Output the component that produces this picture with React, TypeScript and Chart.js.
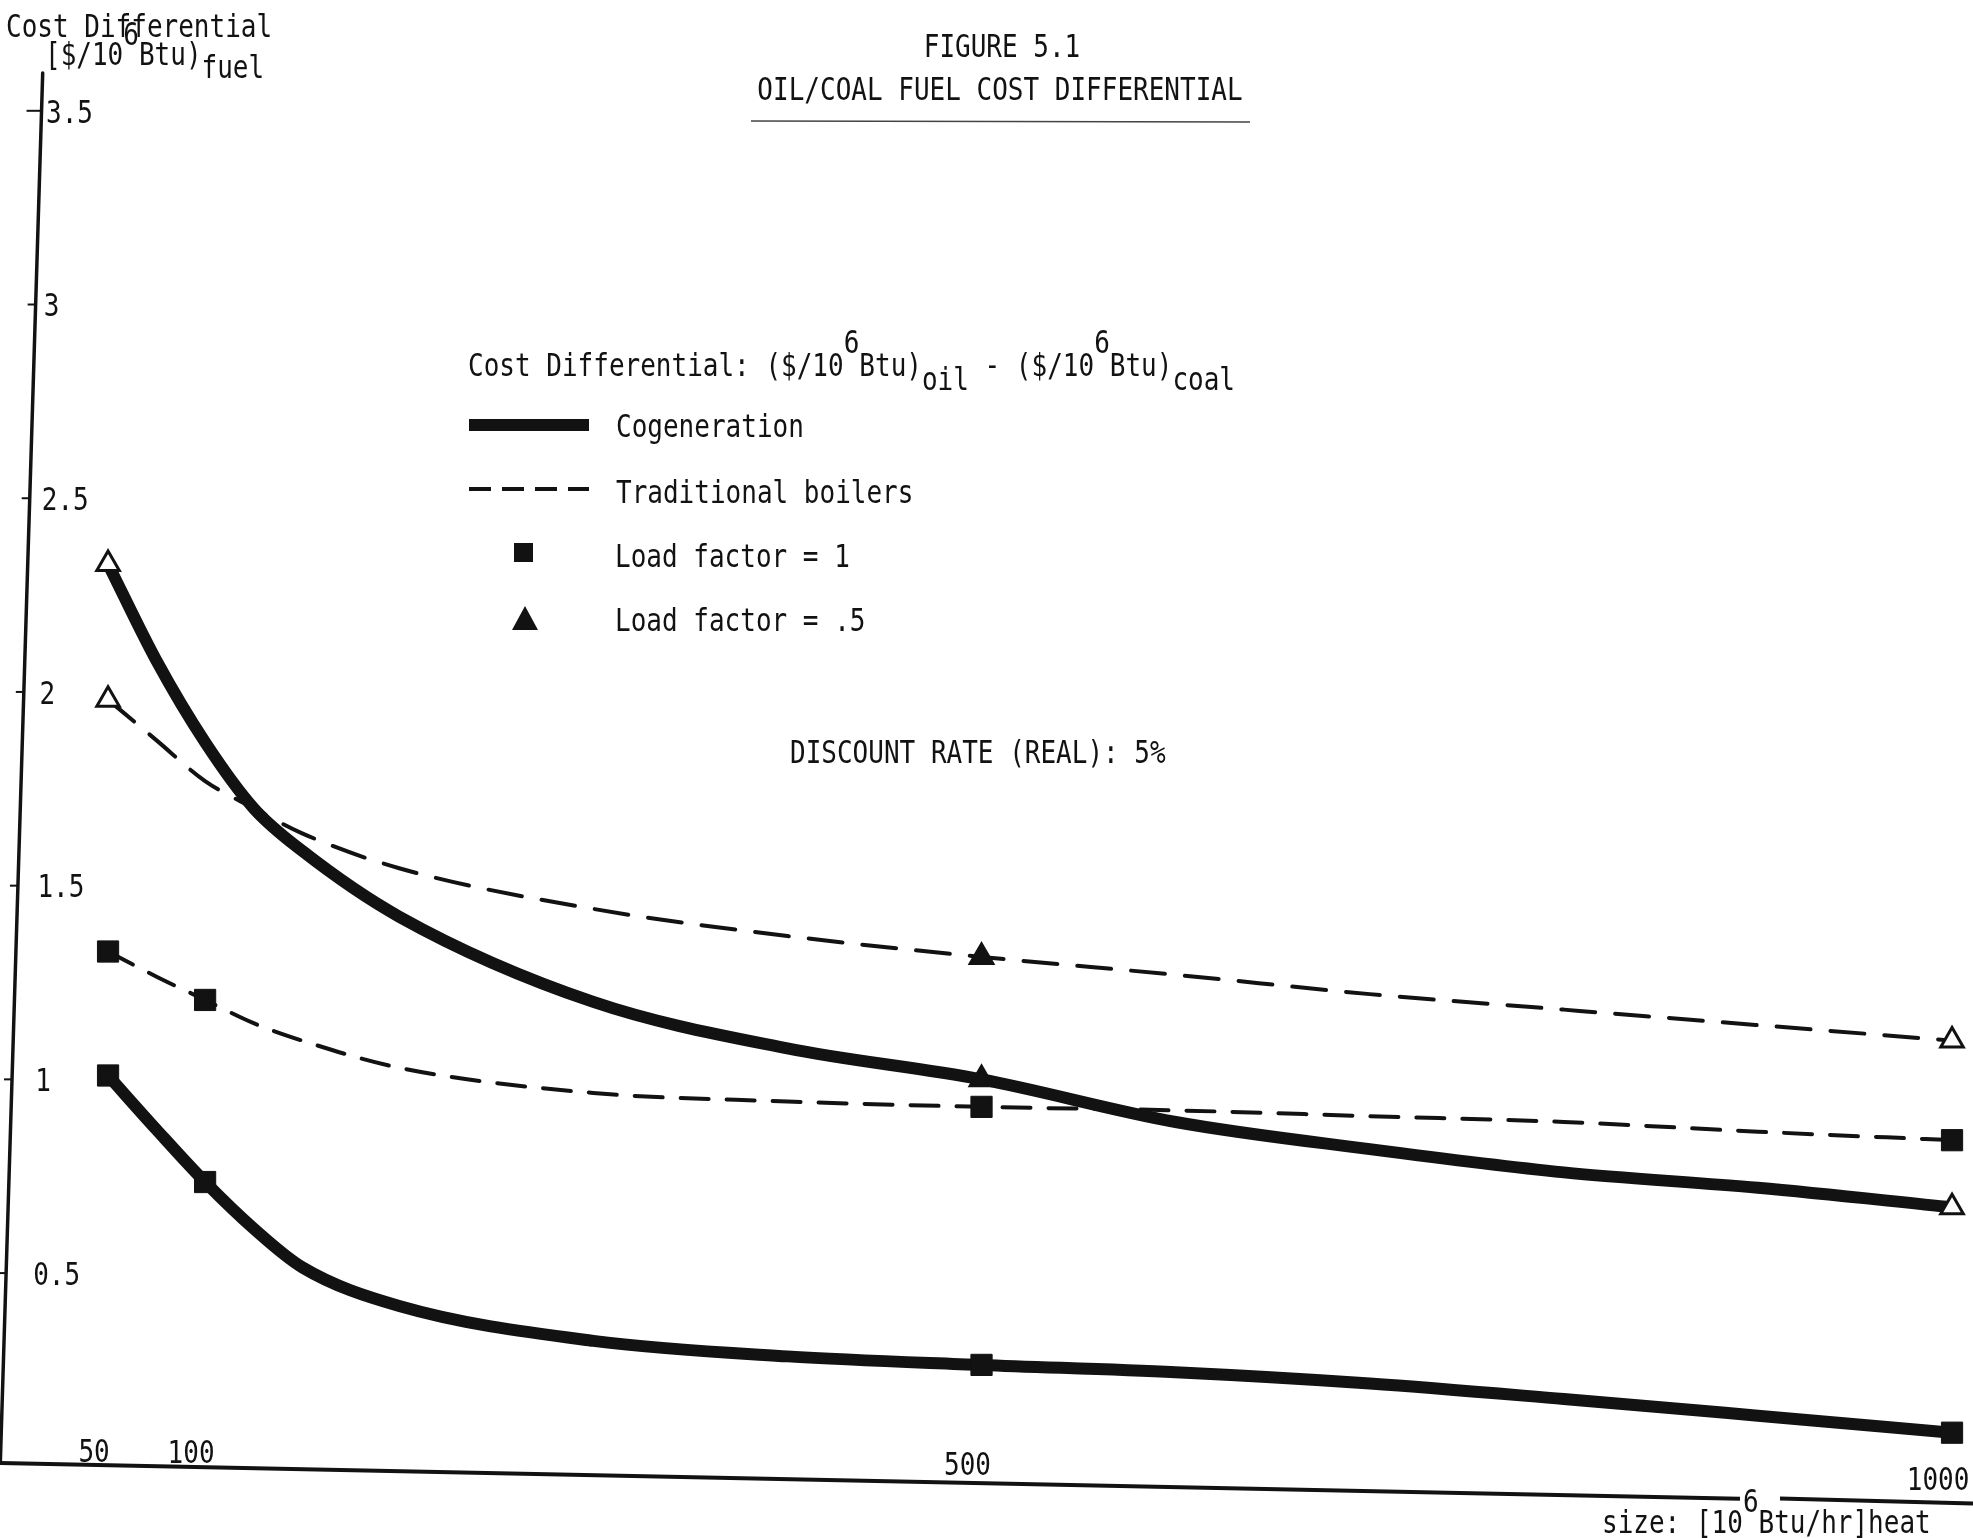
import React, { useEffect, useRef } from "react";
import { Chart, registerables } from "chart.js";

Chart.register(...registerables);

// Plant size, 10^6 Btu/hr (heat)
const sizes = [50, 75, 100, 125, 150, 200, 300, 400, 500, 600, 700, 800, 900, 1000];

// Oil minus coal fuel cost, $/10^6 Btu
const cogenLoadHalf = [2.33, 2.08, 1.87, 1.7, 1.59, 1.42, 1.2, 1.08, 1.0, 0.89, 0.82, 0.76, 0.72, 0.67];
const cogenLoadFull = [1.01, 0.87, 0.735, 0.615, 0.515, 0.415, 0.325, 0.285, 0.263, 0.244, 0.215, 0.175, 0.132, 0.088];
const boilerLoadHalf = [1.98, 1.875, 1.77, 1.7, 1.635, 1.545, 1.44, 1.37, 1.316, 1.27, 1.22, 1.18, 1.14, 1.1];
const boilerLoadFull = [1.33, 1.265, 1.205, 1.145, 1.1, 1.03, 0.965, 0.943, 0.929, 0.92, 0.905, 0.89, 0.865, 0.843];

// Sizes at which a computed case is marked
const squareSizes = [50, 100, 500, 1000];
const triangleSizes = [50, 500, 1000];
const openTriangleSizes = [50, 1000];

const xTicks = [50, 100, 500, 1000];
const xTickLabels = ["50", "100", "500", "1000"];
const yTicks = [0.5, 1, 1.5, 2, 2.5, 3, 3.5];
const yTickLabels = ["0.5", "1", "1.5", "2", "2.5", "3", "3.5"];

const titleLines = ["FIGURE 5.1", "OIL/COAL FUEL COST DIFFERENTIAL"];
const legendLabels = ["Cogeneration", "Traditional boilers", "Load factor = 1", "Load factor = .5"];
const noteText = "DISCOUNT RATE (REAL): 5%";

const INK = "#121212";
const FONT_FAMILY = '"DejaVu Sans Mono", "Liberation Mono", monospace';
const FONT_PX = 26;
const STRETCH_Y = 1.25;
const CAP = 0.729 * FONT_PX * STRETCH_Y;
const SUP = -21;
const SUB = 14;

type Run = { t: string; dy?: number };

function textWidth(ctx: CanvasRenderingContext2D, t: string) {
  ctx.save();
  ctx.font = `${FONT_PX}px ${FONT_FAMILY}`;
  const w = ctx.measureText(t).width;
  ctx.restore();
  return w;
}

// Typewriter-like lettering: monospace face stretched vertically
function drawText(ctx: CanvasRenderingContext2D, t: string, x: number, cy: number, align: CanvasTextAlign = "left") {
  ctx.save();
  ctx.font = `${FONT_PX}px ${FONT_FAMILY}`;
  ctx.fillStyle = INK;
  ctx.textAlign = align;
  ctx.textBaseline = "alphabetic";
  ctx.translate(x, cy + CAP / 2);
  ctx.scale(1, STRETCH_Y);
  ctx.fillText(t, 0, 0);
  ctx.restore();
}

function drawRuns(ctx: CanvasRenderingContext2D, runs: Run[], x: number, cy: number) {
  let cx = x;
  for (const r of runs) {
    drawText(ctx, r.t, cx, cy + (r.dy || 0));
    cx += textWidth(ctx, r.t);
  }
  return cx;
}

// Hand-ruled axes of the sheet (slightly skewed)
const yAxisX = (py: number) => 37 - 0.0305 * (py - 260);
const xAxisY = (px: number) => 1463 + 0.0205 * px;

const paperPlugin = {
  id: "paperAxes",
  afterDraw(chart: any) {
    const ctx: CanvasRenderingContext2D = chart.ctx;
    const xs = chart.scales.x;
    const ys = chart.scales.y;

    ctx.save();
    ctx.strokeStyle = INK;

    // vertical axis
    ctx.lineWidth = 3.5;
    ctx.lineCap = "round";
    ctx.beginPath();
    ctx.moveTo(yAxisX(73), 73);
    ctx.lineTo(yAxisX(1463), 1463);
    ctx.stroke();

    // horizontal axis, broken where the exponent is typed over it
    ctx.lineWidth = 4;
    ctx.lineCap = "butt";
    ctx.beginPath();
    ctx.moveTo(0, xAxisY(0));
    ctx.lineTo(1740, xAxisY(1740));
    ctx.moveTo(1780, xAxisY(1780) - 1);
    ctx.lineTo(1973, xAxisY(1973));
    ctx.stroke();

    // y ticks and labels
    ctx.lineWidth = 2;
    yTicks.forEach((v, i) => {
      const py = ys.getPixelForValue(v);
      const ax = yAxisX(py);
      ctx.beginPath();
      ctx.moveTo(ax - (i === yTicks.length - 1 ? 15 : 8), py);
      ctx.lineTo(ax, py);
      ctx.stroke();
      drawText(ctx, yTickLabels[i], 46 - 0.011 * (py - 110), py);
    });

    // x tick labels sit just above the axis
    xTicks.forEach((v, i) => {
      const px = xs.getPixelForValue(v);
      drawText(ctx, xTickLabels[i], px - 14, xAxisY(px) - 15 - 0.005 * px, "center");
    });

    // axis titles
    drawText(ctx, "Cost Differential", 6, 25);
    drawRuns(ctx, [{ t: "[$/10" }, { t: "6", dy: -20 }, { t: "Btu)" }, { t: "fuel", dy: 13 }], 45, 53);
    drawRuns(ctx, [{ t: "size: [10" }, { t: "6", dy: SUP }, { t: "Btu/hr]heat" }], 1602, 1521);

    // figure title
    drawText(ctx, titleLines[0], 1002, 45, "center");
    drawText(ctx, titleLines[1], 1000, 88, "center");
    ctx.lineWidth = 1.5;
    ctx.strokeStyle = "#444";
    ctx.beginPath();
    ctx.moveTo(751, 121);
    ctx.lineTo(1250, 122);
    ctx.stroke();
    ctx.strokeStyle = INK;

    // key
    drawRuns(
      ctx,
      [
        { t: "Cost Differential: ($/10" },
        { t: "6", dy: -23 },
        { t: "Btu)" },
        { t: "oil", dy: SUB },
        { t: " - ($/10" },
        { t: "6", dy: -23 },
        { t: "Btu)" },
        { t: "coal", dy: SUB },
      ],
      468,
      364
    );

    ctx.lineWidth = 12;
    ctx.beginPath();
    ctx.moveTo(469, 425);
    ctx.lineTo(589, 425);
    ctx.stroke();
    drawText(ctx, legendLabels[0], 616, 425);

    ctx.lineWidth = 4;
    ctx.setLineDash([22, 11]);
    ctx.beginPath();
    ctx.moveTo(469, 489);
    ctx.lineTo(589, 489);
    ctx.stroke();
    ctx.setLineDash([]);
    drawText(ctx, legendLabels[1], 616, 491);

    ctx.fillStyle = INK;
    ctx.fillRect(514, 543, 19, 19);
    drawText(ctx, legendLabels[2], 615, 555);

    ctx.beginPath();
    ctx.moveTo(525, 606);
    ctx.lineTo(538, 630);
    ctx.lineTo(512, 630);
    ctx.closePath();
    ctx.fill();
    drawText(ctx, legendLabels[3], 615, 619);

    drawText(ctx, noteText, 790, 751);

    ctx.restore();
  },
};

const radiiAt = (marked: number[], r: number) => sizes.map((s) => (marked.includes(s) ? r : 0));
const triangleFill = sizes.map((s) => (openTriangleSizes.includes(s) ? "#ffffff" : INK));
const toPoints = (vals: number[]) => sizes.map((s, i) => ({ x: s, y: vals[i] }));

export default function App() {
  const canvasRef = useRef<HTMLCanvasElement | null>(null);

  useEffect(() => {
    const canvas = canvasRef.current;
    if (!canvas) return;
    const chart = new Chart(canvas, {
      type: "line",
      data: {
        datasets: [
          {
            label: "Cogeneration, load factor .5",
            data: toPoints(cogenLoadHalf),
            borderColor: INK,
            borderWidth: 12,
            pointStyle: "triangle",
            pointRadius: radiiAt(triangleSizes, 13),
            pointBackgroundColor: triangleFill,
            pointBorderColor: INK,
            pointBorderWidth: 3,
            clip: false,
          },
          {
            label: "Cogeneration, load factor 1",
            data: toPoints(cogenLoadFull),
            borderColor: INK,
            borderWidth: 12,
            pointStyle: "rect",
            pointRadius: radiiAt(squareSizes, 15),
            pointBackgroundColor: INK,
            pointBorderColor: INK,
            pointBorderWidth: 1,
            clip: false,
          },
          {
            label: "Traditional boilers, load factor .5",
            data: toPoints(boilerLoadHalf),
            borderColor: INK,
            borderWidth: 4,
            borderDash: [34, 20],
            borderCapStyle: "round",
            pointStyle: "triangle",
            pointRadius: radiiAt(triangleSizes, 13),
            pointBackgroundColor: triangleFill,
            pointBorderColor: INK,
            pointBorderWidth: 3,
            clip: false,
          },
          {
            label: "Traditional boilers, load factor 1",
            data: toPoints(boilerLoadFull),
            borderColor: INK,
            borderWidth: 4,
            borderDash: [28, 18],
            borderCapStyle: "round",
            pointStyle: "rect",
            pointRadius: radiiAt(squareSizes, 15),
            pointBackgroundColor: INK,
            pointBorderColor: INK,
            pointBorderWidth: 1,
            clip: false,
          },
        ],
      },
      options: {
        responsive: false,
        animation: false,
        events: [],
        layout: { autoPadding: false, padding: { left: 11, right: 0, top: 0, bottom: 0 } },
        elements: {
          line: { cubicInterpolationMode: "monotone", fill: false },
          point: { hoverRadius: 0 },
        },
        scales: {
          x: { type: "linear", min: 0, max: 1010.8, display: false },
          y: { type: "linear", min: -0.1838, max: 3.786, display: false },
        },
        plugins: {
          legend: { display: false },
          title: { display: false },
          tooltip: { enabled: false },
        },
      },
      plugins: [paperPlugin],
    } as any);
    return () => chart.destroy();
  }, []);

  return (
    <div style={{ position: "absolute", left: 0, top: 0, width: 1973, height: 1538, background: "#fff" }}>
      <canvas ref={canvasRef} width={1973} height={1538} style={{ display: "block" }} />
    </div>
  );
}
